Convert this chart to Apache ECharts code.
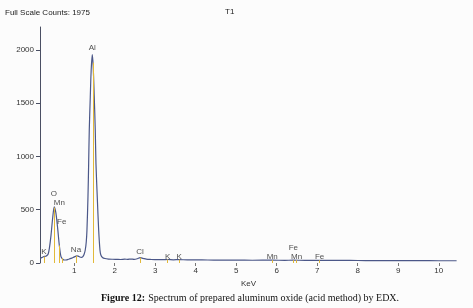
<!DOCTYPE html>
<html>
<head>
<meta charset="utf-8">
<script src="https://cdn.jsdelivr.net/npm/echarts@6/dist/echarts.min.js"></script>
<style>
html,body{margin:0;padding:0;background:#fcfcfc;}
#chart{width:473px;height:308px;}
</style>
</head>
<body>
<div id="chart"></div>
<script>
// Spectrum (energy in keV, counts)
const energyKeV = [0.16,0.20,0.24,0.27,0.30,0.33,0.36,0.39,0.43,0.47,0.51,0.55,0.594,0.634,0.676,0.72,0.76,0.82,0.88,0.94,0.99,1.03,1.06,1.10,1.14,1.18,1.21,1.245,1.275,1.30,1.317,1.342,1.359,1.374,1.399,1.42,1.448,1.47,1.497,1.522,1.539,1.571,1.606,1.638,1.66,1.70,1.76,1.85,1.95,2.05,2.15,2.25,2.32,2.40,2.48,2.56,2.63,2.70,2.78,2.90,3.0,3.2,3.31,3.45,3.59,3.8,4.0,4.3,4.6,5.0,5.4,5.9,6.2,6.4,6.7,7.06,7.4,7.8,8.2,8.6,9.0,9.5,10.0,10.44];
const counts    = [45,50,58,62,63,70,85,140,262,420,528,470,325,169,59,35,28,30,38,46,55,62,68,64,56,53,57,80,122,200,309,622,935,1247,1559,1800,1955,1850,1559,1247,935,622,309,122,75,52,42,37,35,34,33,36,34,37,34,40,50,44,36,33,32,31,33,30,32,29,29,28,27,27,26,27,25,27,25,26,24,24,23,23,22,22,21,21];

// Element marker lines (keV, height in counts)
const markerKeV    = [0.26,0.52,0.64,0.71,1.05,1.47,2.63,3.31,3.59,5.90,6.40,6.49,7.06];
const markerHeight = [60,520,165,45,68,1880,50,33,32,27,27,27,26];

// Peak labels
const labelNames = ['K','O','Mn','Fe','Na','Al','Cl','K','K','Mn','Fe','Mn','Fe'];
const labelKeV   = [0.257,0.503,0.634,0.693,1.046,1.448,2.625,3.31,3.59,5.89,6.41,6.49,7.06];
const labelY     = [106,650,569,387,128,2018,106,59,59,59,138,59,59];

// Axis ticks
const xTicks = [1,2,3,4,5,6,7,8,9,10];
const yTicks = [0,500,1000,1500,2000];

const chart = echarts.init(document.getElementById('chart'), null, {renderer:'canvas'});
const sans = 'Liberation Sans, Arial, sans-serif';

const spectrum = energyKeV.map((e,i)=>[e,counts[i]]);
const markers = markerKeV.map((e,i)=>[{coord:[e,0]},{coord:[e,markerHeight[i]]}]);
const labels = labelNames.map((n,i)=>({name:n,value:[labelKeV[i],labelY[i]]}));

chart.setOption({
  backgroundColor:'#fcfcfc',
  animation:false,
  grid:{left:40,right:16,top:27,bottom:45},
  xAxis:{
    type:'value',min:0.158,max:10.45,
    name:'KeV',nameLocation:'middle',nameGap:14,
    nameTextStyle:{fontFamily:sans,fontSize:8,color:'#333'},
    axisLine:{show:false},
    axisTick:{show:true,customValues:xTicks,length:3,lineStyle:{color:'#777'}},
    axisLabel:{customValues:xTicks,fontFamily:sans,fontSize:8,color:'#333',margin:4,formatter:v=>String(v)},
    splitLine:{show:false}
  },
  yAxis:{
    type:'value',min:0,max:2215,
    axisLine:{show:true,lineStyle:{color:'#4a4f63',width:1}},
    axisTick:{show:true,customValues:yTicks,length:4,lineStyle:{color:'#4a4f63'}},
    axisLabel:{customValues:yTicks,fontFamily:sans,fontSize:8,color:'#333',margin:6,formatter:v=>String(v)},
    splitLine:{show:false}
  },
  series:[
    {
      type:'line',data:spectrum,symbol:'none',smooth:0.3,
      lineStyle:{color:'#4b5788',width:1.2},
      z:3,
      markLine:{silent:true,symbol:['none','none'],label:{show:false},
        lineStyle:{color:'#e2b93a',width:1,type:'solid'},data:markers}
    },
    {
      type:'scatter',data:labels,symbolSize:0,silent:true,z:4,
      label:{show:true,position:'inside',formatter:'{b}',fontFamily:sans,fontSize:8,color:'#222'}
    }
  ],
  graphic:[
    {type:'text',left:5,top:9,style:{text:'Full Scale Counts: 1975',font:'8px '+sans,fill:'#222'}},
    {type:'text',left:225,top:8,style:{text:'T1',font:'8px '+sans,fill:'#222'}},
    {type:'text',left:101,top:292,style:{
      text:'{b|Figure 12:} {n|Spectrum of prepared aluminum oxide (acid method) by EDX.}',
      rich:{
        b:{fontFamily:'Liberation Serif, Times New Roman, serif',fontSize:10,fontWeight:'bold',fill:'#111'},
        n:{fontFamily:'Liberation Serif, Times New Roman, serif',fontSize:10,fill:'#111'}
      }
    }}
  ]
});
</script>
</body>
</html>
